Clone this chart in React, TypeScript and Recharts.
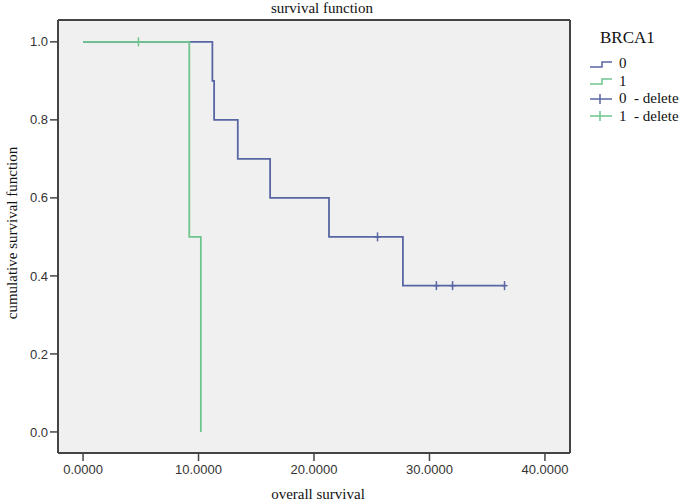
import {
  CartesianGrid,
  ComposedChart,
  Customized,
  Line,
  Scatter,
  XAxis,
  YAxis,
} from "recharts";

// Kaplan-Meier steps
const brca0Times = [0, 11.2, 11.35, 13.4, 16.2, 21.3, 27.7, 36.5];
const brca0Surv = [1, 0.9, 0.8, 0.7, 0.6, 0.5, 0.375, 0.375];
const brca1Times = [0, 9.2, 10.2, 10.2];
const brca1Surv = [1, 0.5, 0, 0];

// censored cases ("delete")
const brca0CensorTimes = [25.5, 30.6, 32.0, 36.5];
const brca0CensorSurv = [0.5, 0.375, 0.375, 0.375];
const brca1CensorTimes = [4.8];
const brca1CensorSurv = [1];

const xTicks = [0, 10, 20, 30, 40];
const yTicks = [0, 0.2, 0.4, 0.6, 0.8, 1.0];

const legendLabels = ["0", "1", "0  - delete", "1  - delete"];

const BLUE = "#5866a3";
const GREEN = "#6fc58e";
const FRAME = "#444444";
const SERIF = "'Liberation Serif', 'Times New Roman', serif";
const SANS = "'Liberation Sans', Arial, sans-serif";

const zip = (xs: number[], ys: number[]) => xs.map((x, i) => ({ x, y: ys[i] }));

const brca0Data = zip(brca0Times, brca0Surv);
const brca1Data = zip(brca1Times, brca1Surv);
const brca0Censor = zip(brca0CensorTimes, brca0CensorSurv);
const brca1Censor = zip(brca1CensorTimes, brca1CensorSurv);

function CensorMark(color: string) {
  return (props: any) => {
    const { cx, cy } = props;
    if (cx == null || cy == null) return <g />;
    return (
      <g stroke={color} strokeWidth={1.5}>
        <line x1={cx} x2={cx} y1={cy - 4.5} y2={cy + 4.5} />
        <line x1={cx - 3} x2={cx + 3} y1={cy} y2={cy} />
      </g>
    );
  };
}

function StepIcon({ color }: { color: string }) {
  return (
    <svg width={26} height={12} style={{ display: "block" }}>
      <polyline points="2,9 14,9 14,4 24,4" fill="none" stroke={color} strokeWidth={1.5} />
    </svg>
  );
}

function CrossIcon({ color }: { color: string }) {
  return (
    <svg width={26} height={12} style={{ display: "block" }}>
      <g stroke={color} strokeWidth={1.5}>
        <line x1={2} x2={24} y1={6} y2={6} />
        <line x1={12} x2={12} y1={1} y2={11} />
      </g>
    </svg>
  );
}

function LegendBox() {
  const colors = [BLUE, GREEN, BLUE, GREEN];
  return (
    <div style={{ position: "absolute", left: 588, top: 29, fontFamily: SERIF, color: "#111" }}>
      <div style={{ fontSize: 17, marginLeft: 12, height: 26, lineHeight: "17px" }}>BRCA1</div>
      {legendLabels.map((label, i) => (
        <div
          key={label}
          style={{ display: "flex", alignItems: "center", height: 17.5, fontSize: 15, whiteSpace: "pre" }}
        >
          {i < 2 ? <StepIcon color={colors[i]} /> : <CrossIcon color={colors[i]} />}
          <span style={{ marginLeft: 5 }}>{label}</span>
        </div>
      ))}
    </div>
  );
}

function Titles() {
  return (
    <g fontFamily={SERIF} fill="#111" fontSize={15}>
      <text x={322} y={13} textAnchor="middle">
        survival function
      </text>
      <text x={318} y={499} textAnchor="middle">
        overall survival
      </text>
      <text x={17} y={233} textAnchor="middle" transform="rotate(-90 17 233)">
        cumulative survival function
      </text>
    </g>
  );
}

export default function App() {
  const tickStyle = { fill: "#333", fontSize: 13, fontFamily: SANS };
  return (
    <div style={{ position: "absolute", left: 0, top: 0, width: 685, height: 502, background: "#fff" }}>
      <ComposedChart width={685} height={502} margin={{ top: 0, right: 0, bottom: 0, left: 0 }}>
        <CartesianGrid fill="#f0f0f0" horizontal={false} vertical={false} />
        <XAxis
          dataKey="x"
          type="number"
          domain={[-2.17, 42.17]}
          ticks={xTicks}
          allowDataOverflow
          tickFormatter={(v) => Number(v).toFixed(4)}
          tick={tickStyle}
          tickSize={8}
          tickMargin={4}
          tickLine={{ stroke: FRAME, strokeWidth: 1.5 }}
          axisLine={{ stroke: FRAME, strokeWidth: 2 }}
          height={49}
        />
        <XAxis
          xAxisId="top"
          orientation="top"
          type="number"
          domain={[-2.17, 42.17]}
          tick={false}
          tickLine={false}
          axisLine={{ stroke: FRAME, strokeWidth: 2 }}
          height={20}
        />
        <YAxis
          type="number"
          domain={[-0.054, 1.056]}
          ticks={yTicks}
          allowDataOverflow
          tickFormatter={(v) => Number(v).toFixed(1)}
          tick={tickStyle}
          tickSize={8}
          tickMargin={2}
          tickLine={{ stroke: FRAME, strokeWidth: 1.5 }}
          axisLine={{ stroke: FRAME, strokeWidth: 2 }}
          width={58}
        />
        <YAxis
          yAxisId="right"
          orientation="right"
          type="number"
          domain={[-0.054, 1.056]}
          tick={false}
          tickLine={false}
          axisLine={{ stroke: FRAME, strokeWidth: 2 }}
          width={115}
        />
        <Line
          data={brca0Data}
          dataKey="y"
          type="stepAfter"
          stroke={BLUE}
          strokeWidth={1.8}
          dot={false}
          activeDot={false}
          isAnimationActive={false}
        />
        <Line
          data={brca1Data}
          dataKey="y"
          type="stepAfter"
          stroke={GREEN}
          strokeWidth={1.8}
          dot={false}
          activeDot={false}
          isAnimationActive={false}
        />
        <Scatter data={brca0Censor} dataKey="y" shape={CensorMark(BLUE)} isAnimationActive={false} />
        <Scatter data={brca1Censor} dataKey="y" shape={CensorMark(GREEN)} isAnimationActive={false} />
        <Customized component={Titles} />
      </ComposedChart>
      <LegendBox />
    </div>
  );
}
